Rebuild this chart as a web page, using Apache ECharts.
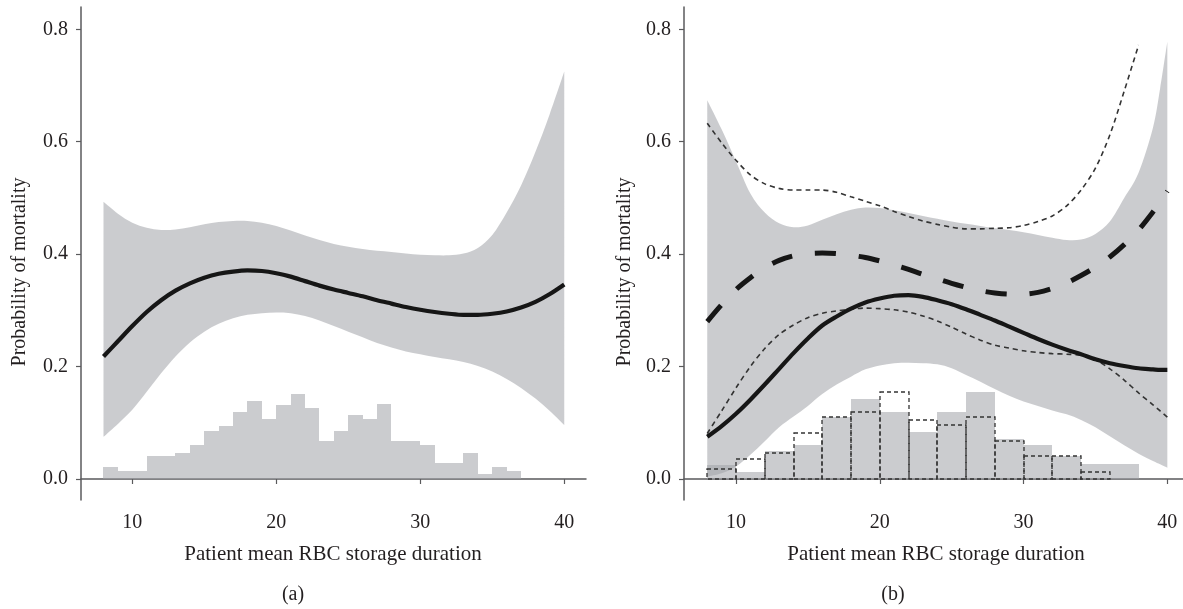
<!DOCTYPE html>
<html><head><meta charset="utf-8">
<script src="https://cdn.jsdelivr.net/npm/echarts@6/dist/echarts.min.js"></script>
<style>html,body{margin:0;padding:0;background:#fff}#c{width:1183px;height:609px}</style>
</head><body><div id="c"></div>
<script>
// ---------- data ----------
const xTicks = [10, 20, 30, 40];
const yTicks = [0, 0.2, 0.4, 0.6, 0.8];
const xTitle = 'Patient mean RBC storage duration';
const yTitle = 'Probability of mortality';
const panelLabels = ['(a)', '(b)'];

// panel (a)
const xA = [8,9,10,11,12,13,14,15,16,17,18,19,20,21,22,23,24,25,26,27,28,29,30,31,32,33,34,35,36,37,38,39,40];
const meanA  = [0.218,0.245,0.272,0.297,0.318,0.335,0.348,0.358,0.365,0.369,0.371,0.370,0.366,0.360,0.352,0.344,0.337,0.331,0.325,0.318,0.312,0.306,0.301,0.297,0.294,0.292,0.292,0.294,0.298,0.305,0.315,0.329,0.346];
const upperA = [0.493,0.472,0.456,0.447,0.443,0.444,0.448,0.453,0.457,0.459,0.459,0.456,0.450,0.442,0.433,0.425,0.418,0.413,0.409,0.406,0.404,0.401,0.399,0.398,0.398,0.401,0.411,0.434,0.474,0.522,0.582,0.650,0.725];
const lowerA = [0.075,0.098,0.123,0.155,0.188,0.218,0.243,0.262,0.276,0.286,0.292,0.295,0.296,0.295,0.290,0.282,0.272,0.262,0.252,0.242,0.234,0.227,0.222,0.217,0.213,0.208,0.201,0.191,0.178,0.162,0.143,0.121,0.096];
const histALeft = [8,9,10,11,12,13,14,15,16,17,18,19,20,21,22,23,24,25,26,27,28,29,30,31,32,33,34,35,36];
const histABinWidth = 1;
const histA = [0.021,0.014,0.014,0.041,0.041,0.047,0.060,0.086,0.094,0.119,0.139,0.107,0.132,0.152,0.127,0.067,0.086,0.113,0.107,0.133,0.067,0.067,0.061,0.028,0.028,0.047,0.008,0.021,0.014];

// panel (b)
const xB = [8,9,10,11,12,13,14,15,16,17,18,19,20,21,22,23,24,25,26,27,28,29,30,31,32,33,34,35,36,37,38,39,39.5,40];
const upperB       = [0.674,0.622,0.565,0.508,0.474,0.455,0.448,0.451,0.461,0.471,0.479,0.483,0.482,0.478,0.473,0.468,0.463,0.458,0.454,0.450,0.446,0.443,0.439,0.434,0.429,0.425,0.426,0.436,0.458,0.500,0.545,0.625,0.695,0.778];
const lowerB       = [0.004,0.010,0.022,0.043,0.067,0.092,0.111,0.130,0.151,0.168,0.182,0.195,0.202,0.206,0.207,0.206,0.204,0.197,0.185,0.173,0.160,0.148,0.138,0.130,0.122,0.115,0.105,0.092,0.076,0.060,0.045,0.032,0.026,0.020];
const solidB       = [0.075,0.094,0.116,0.141,0.168,0.196,0.224,0.250,0.273,0.289,0.303,0.314,0.321,0.326,0.327,0.324,0.318,0.311,0.302,0.292,0.282,0.271,0.260,0.249,0.239,0.230,0.222,0.213,0.206,0.201,0.197,0.195,0.194,0.194];
const dashedB      = [0.280,0.310,0.337,0.358,0.376,0.389,0.397,0.401,0.402,0.401,0.398,0.394,0.388,0.381,0.373,0.364,0.356,0.348,0.341,0.335,0.331,0.329,0.329,0.332,0.339,0.349,0.362,0.377,0.395,0.417,0.443,0.475,0.493,0.512];
const upperDotB    = [0.633,0.598,0.567,0.541,0.525,0.517,0.514,0.514,0.514,0.510,0.502,0.494,0.486,0.476,0.467,0.459,0.453,0.448,0.445,0.445,0.446,0.447,0.451,0.458,0.468,0.486,0.514,0.553,0.612,0.690,0.772,null,null,null];
const lowerDotB    = [0.081,0.121,0.162,0.200,0.232,0.257,0.274,0.287,0.295,0.299,0.302,0.304,0.303,0.301,0.297,0.290,0.281,0.270,0.258,0.247,0.238,0.233,0.228,0.225,0.223,0.222,0.220,0.212,0.196,0.176,0.153,0.132,0.121,0.110];
const histBLeft = [8,10,12,14,16,18,20,22,24,26,28,30,32,34,36];
const histBBinWidth = 2;
const histBFilled = [0.025,0.013,0.049,0.060,0.110,0.143,0.119,0.084,0.119,0.154,0.072,0.061,0.040,0.026,0.026];
const histBDashed = [0.018,0.036,0.046,0.081,0.110,0.120,0.155,0.105,0.096,0.110,0.068,0.041,0.041,0.013,0];

// ---------- chart ----------
const FONT = '"Liberation Serif", "DejaVu Serif", serif';
const TXT = '#231f20';
const AX = '#5a5a5c';
const BAND = 'rgba(160,162,168,0.55)';
const GRAY = 'rgba(160,162,168,0.55)';
const INK = '#161616';

function pts(xs, ys) { return xs.map((x, i) => [x, ys[i]]).filter(p => p[1] != null); }

function xAxisDef(gi, min, max) {
  return {
    type: 'value', gridIndex: gi, min: min, max: max,
    splitLine: { show: false },
    axisLine: { lineStyle: { color: AX, width: 1.5 } },
    axisTick: { customValues: xTicks, length: 5, lineStyle: { color: AX, width: 1.2 } },
    axisLabel: { customValues: xTicks, margin: 13, fontFamily: FONT, fontSize: 20, color: TXT }
  };
}
function yAxisDef(gi) {
  return {
    type: 'value', gridIndex: gi, min: -0.0374, max: 0.8397,
    splitLine: { show: false },
    axisLine: { show: true, lineStyle: { color: AX, width: 1.5 } },
    axisTick: { show: true, customValues: yTicks, length: 5, lineStyle: { color: AX, width: 1.2 } },
    axisLabel: { customValues: yTicks, margin: 13, fontFamily: FONT, fontSize: 20, color: TXT,
      formatter: v => Number(v).toFixed(1) }
  };
}
// smooth path through pixel points (Catmull-Rom -> cubic Bezier)
function curvePath(p) {
  let d = '';
  for (let i = 0; i < p.length - 1; i++) {
    const p0 = p[i - 1] || p[i], p1 = p[i], p2 = p[i + 1], p3 = p[i + 2] || p2;
    const t = 1 / 6;
    d += ' C' + (p1[0] + (p2[0] - p0[0]) * t) + ',' + (p1[1] + (p2[1] - p0[1]) * t) + ' ' +
         (p2[0] - (p3[0] - p1[0]) * t) + ',' + (p2[1] - (p3[1] - p1[1]) * t) + ' ' + p2[0] + ',' + p2[1];
  }
  return d;
}
// confidence band as one filled shape between the lower and upper curves
function band(gi, xs, lo, up) {
  return {
    type: 'custom', xAxisIndex: gi, yAxisIndex: gi, z: 1, silent: true,
    data: [[xs[0], lo[0]], [xs[xs.length - 1], up[up.length - 1]]],
    encode: { x: 0, y: 1 },
    renderItem: function (params, api) {
      if (params.dataIndex !== 0) return null;
      const U = xs.map((x, i) => api.coord([x, up[i]]));
      const L = xs.map((x, i) => api.coord([x, lo[i]])).reverse();
      const d = 'M' + U[0][0] + ',' + U[0][1] + curvePath(U) +
                ' L' + L[0][0] + ',' + L[0][1] + curvePath(L) + ' Z';
      return { type: 'path', shape: { pathData: d }, style: { fill: BAND } };
    }
  };
}
function hist(gi, lefts, w, heights, style, z) {
  return {
    type: 'custom', xAxisIndex: gi, yAxisIndex: gi, z: z, silent: true,
    data: lefts.map((l, i) => [l, l + w, heights[i]]).filter(d => d[2] > 0),
    encode: { x: [0, 1], y: 2 },
    renderItem: function (params, api) {
      const p0 = api.coord([api.value(0), api.value(2)]);
      const p1 = api.coord([api.value(1), 0]);
      const x0 = Math.round(p0[0]), x1 = Math.round(p1[0]);
      const y0 = Math.round(p0[1]), y1 = Math.round(p1[1]);
      return { type: 'rect', shape: { x: x0, y: y0, width: x1 - x0, height: y1 - y0 }, style: style };
    }
  };
}
function line(gi, xs, ys, lineStyle, z) {
  return { type: 'line', xAxisIndex: gi, yAxisIndex: gi, data: pts(xs, ys), showSymbol: false,
    smooth: 0.3, lineStyle: lineStyle, z: z || 3, silent: true };
}

const chart = echarts.init(document.getElementById('c'), null, { renderer: 'canvas' });
chart.setOption({
  animation: false,
  backgroundColor: '#fff',
  grid: [
    { left: 81, top: 7, width: 505, height: 493 },
    { left: 684, top: 7, width: 499, height: 493 }
  ],
  xAxis: [xAxisDef(0, 6.4375, 41.51), xAxisDef(1, 6.383, 41.09)],
  yAxis: [yAxisDef(0), yAxisDef(1)],
  series: [
    band(0, xA, lowerA, upperA),
    hist(0, histALeft, histABinWidth, histA, { fill: GRAY }, 2),
    line(0, xA, meanA, { color: INK, width: 4.2 }),

    band(1, xB, lowerB, upperB),
    hist(1, histBLeft, histBBinWidth, histBFilled, { fill: GRAY }, 2),
    hist(1, histBLeft, histBBinWidth, histBDashed, { fill: 'none', stroke: '#333', lineWidth: 1.3, lineDash: [4, 3] }, 2.5),
    line(1, xB, upperDotB, { color: '#333', width: 1.6, type: [5, 4] }),
    line(1, xB, lowerDotB, { color: '#333', width: 1.6, type: [5, 4] }),
    line(1, xB, dashedB, { color: INK, width: 5, type: [21, 23] }),
    line(1, xB, solidB, { color: INK, width: 4.2 })
  ],
  graphic: [
    { type: 'text', x: 20, y: 272, rotation: Math.PI / 2,
      style: { text: yTitle, align: 'center', verticalAlign: 'middle', fontFamily: FONT, fontSize: 20, fill: TXT } },
    { type: 'text', x: 625, y: 272, rotation: Math.PI / 2,
      style: { text: yTitle, align: 'center', verticalAlign: 'middle', fontFamily: FONT, fontSize: 20, fill: TXT } },
    { type: 'text', x: 333, y: 554,
      style: { text: xTitle, align: 'center', verticalAlign: 'middle', fontFamily: FONT, fontSize: 21, fill: TXT } },
    { type: 'text', x: 936, y: 554,
      style: { text: xTitle, align: 'center', verticalAlign: 'middle', fontFamily: FONT, fontSize: 21, fill: TXT } },
    { type: 'text', x: 293, y: 595,
      style: { text: panelLabels[0], align: 'center', verticalAlign: 'middle', fontFamily: FONT, fontSize: 20, fill: TXT } },
    { type: 'text', x: 893, y: 595,
      style: { text: panelLabels[1], align: 'center', verticalAlign: 'middle', fontFamily: FONT, fontSize: 20, fill: TXT } }
  ]
});
</script>
</body></html>
